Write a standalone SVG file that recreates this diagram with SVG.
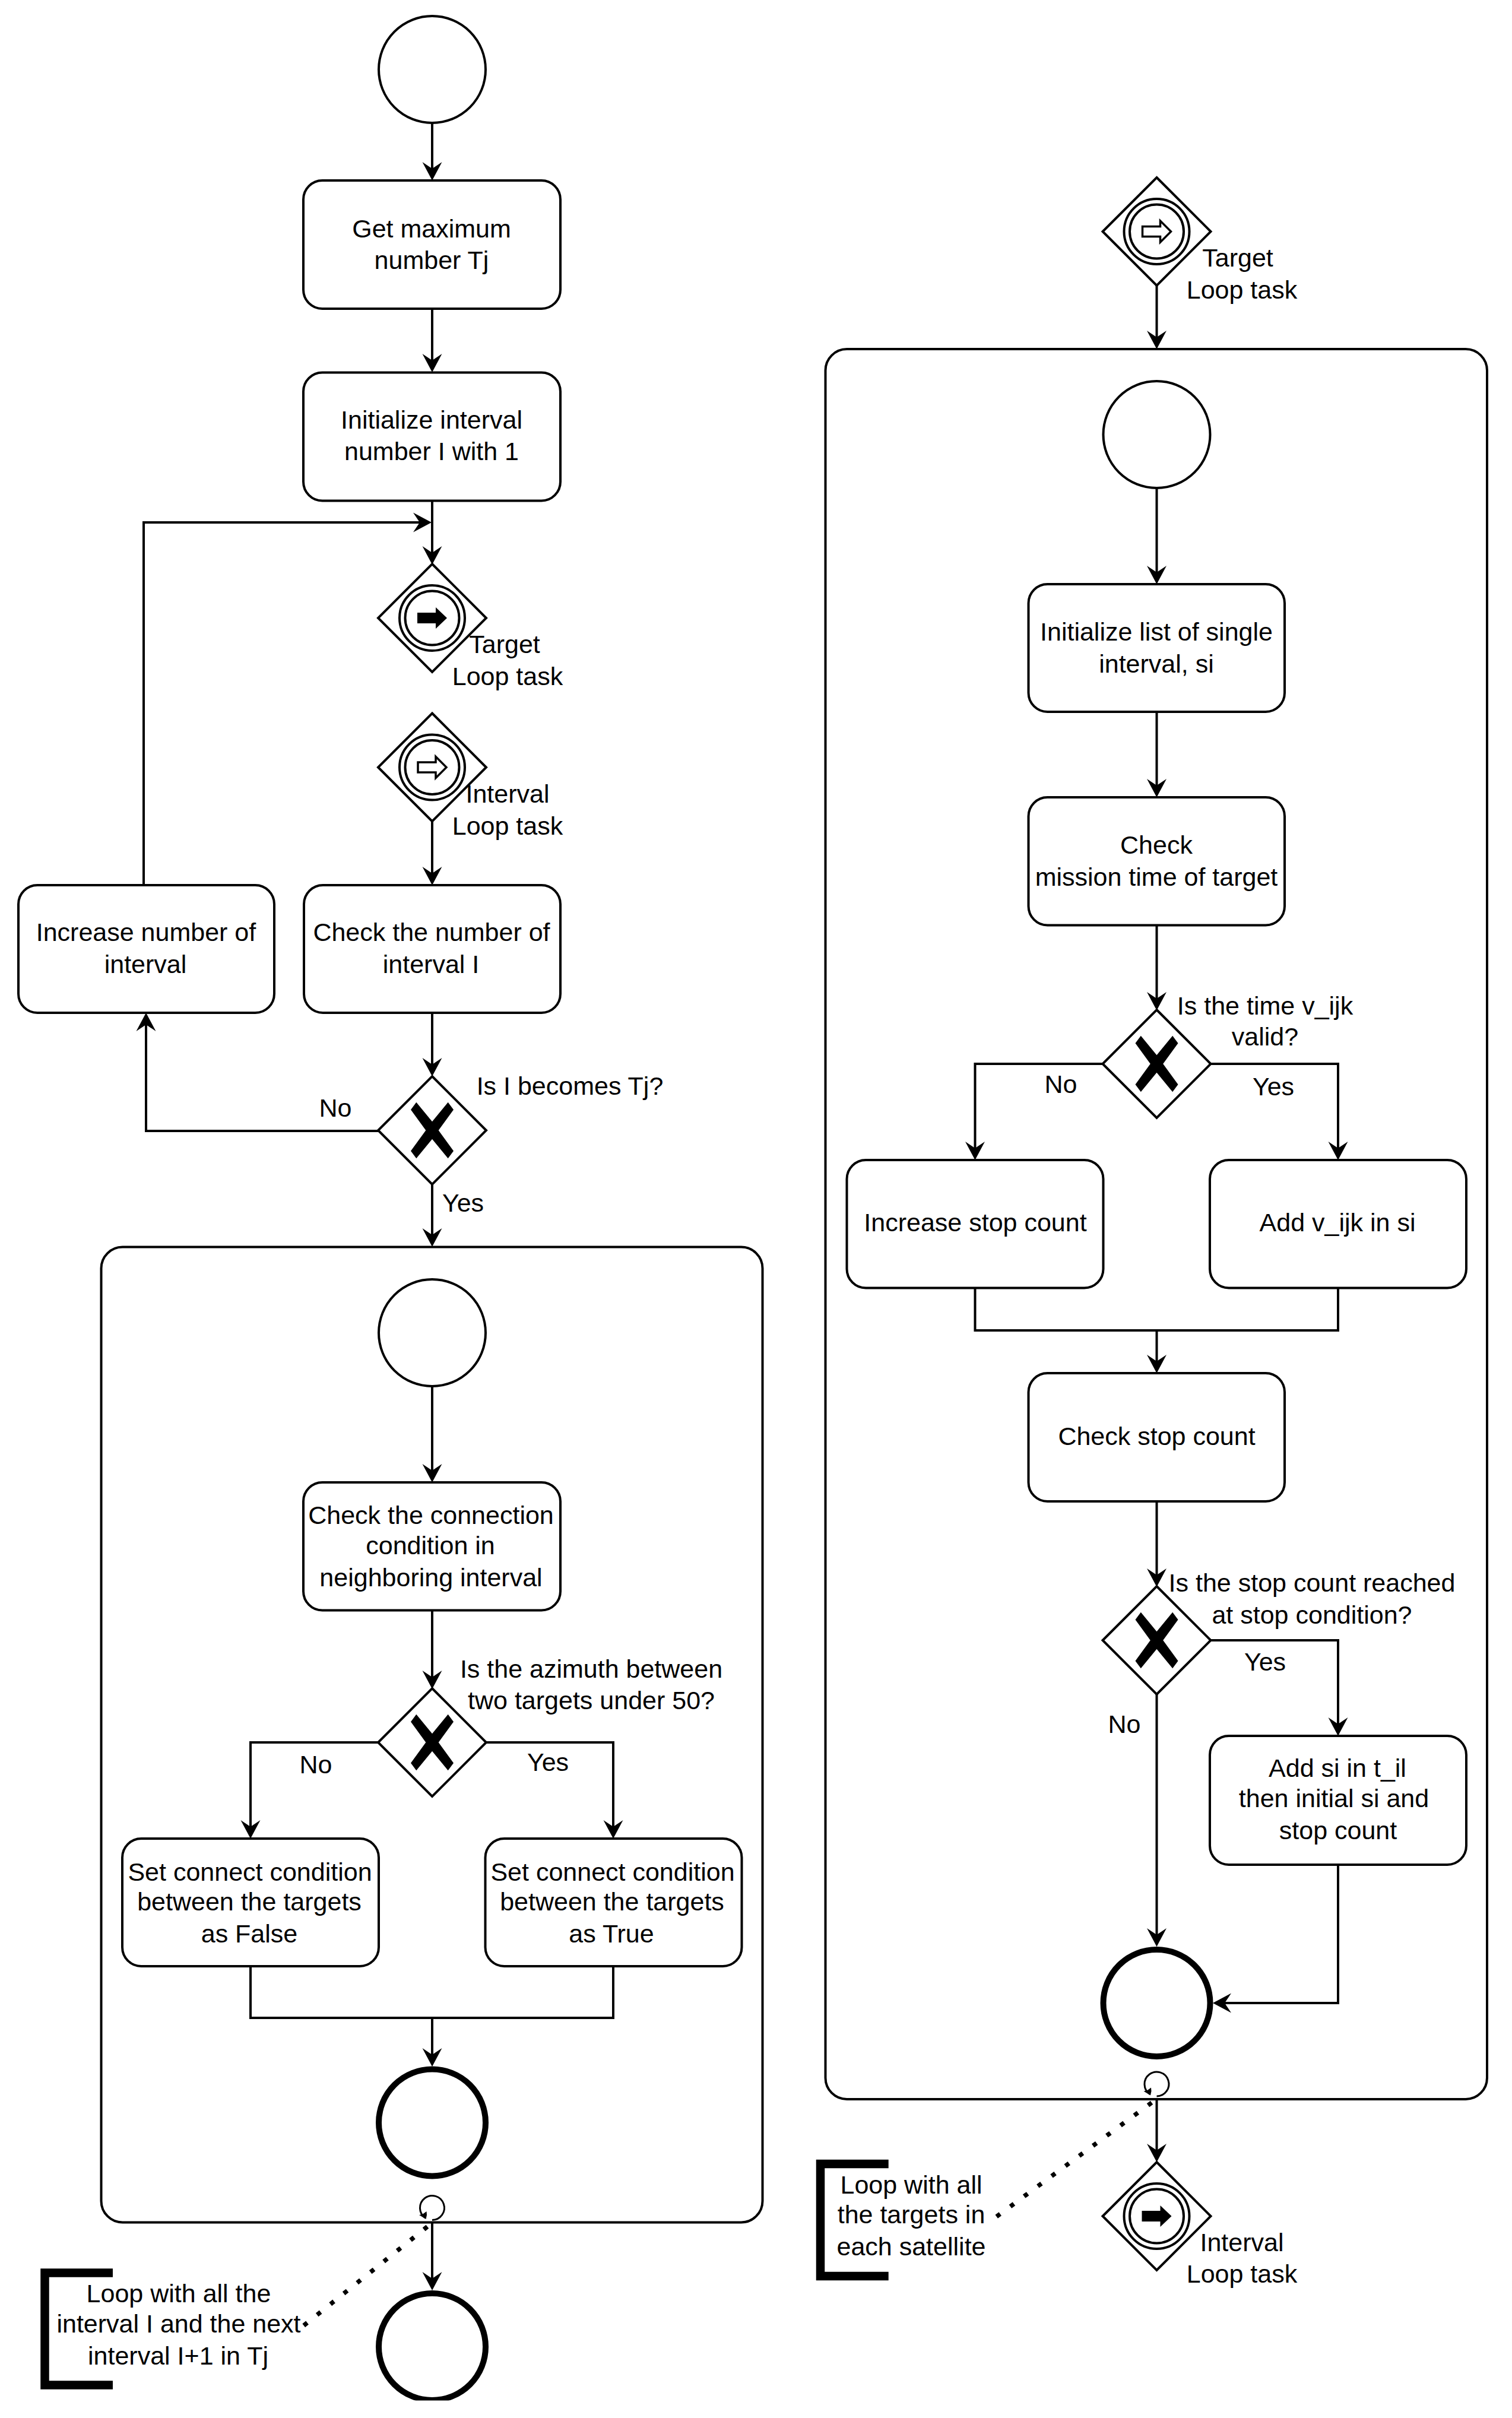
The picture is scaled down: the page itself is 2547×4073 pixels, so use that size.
<svg xmlns="http://www.w3.org/2000/svg" xmlns:xlink="http://www.w3.org/1999/xlink" width="2547" height="4073" viewBox="0 0 2547 4073">
<style>
text{font-family:"Liberation Sans",Arial,sans-serif;font-size:43px;fill:#000;text-anchor:middle}
.s{fill:#fff;stroke:#000;stroke-width:4}
.c{fill:none;stroke:#000;stroke-width:4;marker-end:url(#arr)}
.p{fill:none;stroke:#000;stroke-width:4}
.e{fill:#fff;stroke:#000;stroke-width:10}
.d{fill:none;stroke:#000;stroke-width:7.5;stroke-linecap:square;stroke-dasharray:0.01 28.78}
.b{fill:none;stroke:#000;stroke-width:14.5}
.l{fill:none;stroke:#000;stroke-width:3}
</style>
<defs>
<marker id="arr" markerUnits="userSpaceOnUse" markerWidth="34" markerHeight="36" refX="21" refY="18" orient="auto">
<path d="M0,1.5 L31,18 L0,34.5 L11,18 Z" fill="#000"/>
</marker>
<polygon id="xm" points="-26.7,-47.3 0,-14.7 26.7,-47.3 36,-34.7 10.7,0 36,34.7 26.7,47.3 0,14.7 -26.7,47.3 -36,34.7 -10.7,0 -36,-34.7" fill="#000"/>
<polygon id="dia" class="s" points="0,-91 91,0 0,91 -91,0"/>
<g id="rings"><circle r="55" class="s"/><circle r="45.5" class="s"/></g>
<polygon id="fa" points="-25,-9 6,-9 6,-18 25,0 6,18 6,9 -25,9" fill="#000"/>
<polygon id="oa" points="-24,-8.5 6,-8.5 6,-18 24,0 6,18 6,8.5 -24,8.5" fill="#fff" stroke="#000" stroke-width="3.5"/>
<clipPath id="crop"><rect x="0" y="0" width="2547" height="4043.5"/></clipPath>
</defs>
<rect width="2547" height="4073" fill="#fff"/>

<g id="subprocess-left"><rect class="s" x="170.5" y="2100.5" width="1114" height="1643" rx="36"/></g>
<g id="subprocess-right"><rect class="s" x="1390.5" y="588" width="1114.5" height="2948" rx="36"/></g>

<g id="connectors">
<path class="c" d="M728 207V294"/>
<path class="c" d="M728 520V617"/>
<path class="c" d="M728 843V941"/>
<path class="c" d="M242 1491V880H717"/>
<path class="c" d="M728 1383V1481"/>
<path class="c" d="M728 1706V1803"/>
<path class="c" d="M637 1905H246V1716"/>
<path class="c" d="M728 1995V2090"/>
<path class="c" d="M728 2335V2487"/>
<path class="c" d="M728 2712V2835"/>
<path class="c" d="M638 2935H422V3087"/>
<path class="c" d="M818 2935H1033V3087"/>
<path class="p" d="M422 3312V3399H1033V3312"/>
<path class="c" d="M728 3399V3471"/>
<path class="c" d="M728 3744V3848"/>
<path class="c" d="M1948.5 480V578"/>
<path class="c" d="M1948.5 822V974"/>
<path class="c" d="M1948.5 1199V1333"/>
<path class="c" d="M1948.5 1558.5V1692"/>
<path class="c" d="M1858 1792H1642.5V1944"/>
<path class="c" d="M2038 1792H2254V1944"/>
<path class="p" d="M1642.5 2169.5V2241H2254V2169.5"/>
<path class="c" d="M1948.5 2241V2303"/>
<path class="c" d="M1948.5 2529V2663"/>
<path class="c" d="M2038 2763H2254V2914"/>
<path class="c" d="M1948.5 2853V3269"/>
<path class="c" d="M2254 3141V3374H2053"/>
<path class="c" d="M1948.5 3536V3632"/>
<path class="d" d="M717 3753L514.5 3915"/>
<path class="d" d="M1937 3544L1681 3732"/>
</g>

<g id="start-1"><circle class="s" cx="728" cy="117" r="90"/></g>
<g id="task-get-max"><rect class="s" x="511" y="304" width="433" height="216" rx="32"/><text x="727" y="399.5">Get maximum</text><text x="727" y="453">number Tj</text></g>
<g id="task-init-interval"><rect class="s" x="511" y="627.5" width="433" height="216" rx="32"/><text x="727" y="722">Initialize interval</text><text x="727" y="775">number I with 1</text></g>

<g id="gateway-target-throw"><use href="#dia" xlink:href="#dia" x="728" y="1041"/><use href="#rings" xlink:href="#rings" x="728" y="1041"/><use href="#fa" xlink:href="#fa" x="728" y="1041"/><text x="850" y="1100">Target</text><text x="855" y="1153.5">Loop task</text></g>
<g id="gateway-interval-catch"><use href="#dia" xlink:href="#dia" x="728" y="1292.5"/><use href="#rings" xlink:href="#rings" x="728" y="1292.5"/><use href="#oa" xlink:href="#oa" x="728" y="1292.5"/><text x="855" y="1351.5">Interval</text><text x="855" y="1405.5">Loop task</text></g>
<g id="task-increase-interval"><rect class="s" x="31" y="1491" width="431" height="215" rx="32"/><text x="246" y="1585">Increase number of</text><text x="245" y="1639">interval</text></g>
<g id="task-check-number"><rect class="s" x="512" y="1491" width="432" height="215" rx="32"/><text x="727" y="1585">Check the number of</text><text x="726" y="1639">interval I</text></g>
<g id="gateway-interval-end"><use href="#dia" xlink:href="#dia" x="728" y="1904"/><use href="#xm" xlink:href="#xm" x="728" y="1904"/><text x="960" y="1844">Is I becomes Tj?</text><text x="565" y="1880.5">No</text><text x="780" y="2041">Yes</text></g>

<g id="start-2"><circle class="s" cx="728" cy="2245" r="90"/></g>
<g id="task-check-connection"><rect class="s" x="511" y="2497" width="433" height="215.5" rx="32"/><text x="726" y="2566.5">Check the connection</text><text x="725" y="2617.5">condition in</text><text x="726" y="2671.5">neighboring interval</text></g>
<g id="gateway-azimuth"><use href="#dia" xlink:href="#dia" x="728" y="2935"/><use href="#xm" xlink:href="#xm" x="728" y="2935"/><text x="996" y="2825.5">Is the azimuth between</text><text x="996" y="2878.5">two targets under 50?</text><text x="532" y="2987">No</text><text x="923" y="2983">Yes</text></g>
<g id="task-set-false"><rect class="s" x="206" y="3097" width="432" height="215" rx="32"/><text x="421" y="3167.5">Set connect condition</text><text x="420" y="3218">between the targets</text><text x="420" y="3271.5">as False</text></g>
<g id="task-set-true"><rect class="s" x="817.5" y="3097" width="432" height="215" rx="32"/><text x="1032" y="3167.5">Set connect condition</text><text x="1031" y="3218">between the targets</text><text x="1030" y="3271.5">as True</text></g>
<g id="end-1"><circle class="e" cx="728" cy="3575.5" r="90"/></g>
<g id="loop-marker-left"><path class="l" d="M728 3739.5A20.5 20.5 0 1 0 716.5 3736"/><path d="M717.5 3738L706 3731L711.5 3730L718.5 3725L719 3731Z" fill="#000"/></g>
<g id="end-2"><circle class="e" cx="728" cy="3953" r="90" clip-path="url(#crop)"/></g>
<g id="annotation-left"><polyline class="b" points="190,3828.5 75.5,3828.5 75.5,4017.5 190,4017.5"/><text x="301" y="3877.5">Loop with all the</text><text x="301" y="3928.5">interval I and the next</text><text x="300" y="3982.5">interval I+1 in Tj</text></g>

<g id="gateway-target-catch"><use href="#dia" xlink:href="#dia" x="1948.5" y="390"/><use href="#rings" xlink:href="#rings" x="1948.5" y="390"/><use href="#oa" xlink:href="#oa" x="1948.5" y="390"/><text x="2085" y="449">Target</text><text x="2092" y="503">Loop task</text></g>
<g id="start-3"><circle class="s" cx="1948.5" cy="732" r="90"/></g>
<g id="task-init-list"><rect class="s" x="1732.5" y="984" width="431.5" height="215" rx="32"/><text x="1948" y="1079">Initialize list of single</text><text x="1948" y="1132.5">interval, si</text></g>
<g id="task-check-mission"><rect class="s" x="1732.5" y="1343" width="431.5" height="215.5" rx="32"/><text x="1948" y="1437.5">Check</text><text x="1948" y="1491.5">mission time of target</text></g>
<g id="gateway-time-valid"><use href="#dia" xlink:href="#dia" x="1948.5" y="1792"/><use href="#xm" xlink:href="#xm" x="1948.5" y="1792"/><text x="2131" y="1708.5">Is the time v_ijk</text><text x="2131" y="1760.5">valid?</text><text x="1787" y="1840.5">No</text><text x="2145" y="1844.5">Yes</text></g>
<g id="task-increase-stop"><rect class="s" x="1426.5" y="1954" width="432" height="215.5" rx="32"/><text x="1643" y="2073.5">Increase stop count</text></g>
<g id="task-add-vijk"><rect class="s" x="2038" y="1954" width="432" height="215.5" rx="32"/><text x="2253" y="2073.5">Add v_ijk in si</text></g>
<g id="task-check-stop"><rect class="s" x="1732.5" y="2313" width="431.5" height="216" rx="32"/><text x="1948.5" y="2433.5">Check stop count</text></g>
<g id="gateway-stop"><use href="#dia" xlink:href="#dia" x="1948.5" y="2763"/><use href="#xm" xlink:href="#xm" x="1948.5" y="2763"/><text x="2210" y="2681">Is the stop count reached</text><text x="2210" y="2735">at stop condition?</text><text x="2131" y="2814">Yes</text><text x="1894" y="2918.5">No</text></g>
<g id="task-add-si"><rect class="s" x="2038" y="2924" width="432" height="217" rx="32"/><text x="2253" y="2993">Add si in t_il</text><text x="2247" y="3044">then initial si and</text><text x="2254" y="3098">stop count</text></g>
<g id="end-3"><circle class="e" cx="1948.5" cy="3374" r="90"/></g>
<g id="loop-marker-right"><path class="l" d="M1948.5 3531A20.5 20.5 0 1 0 1937 3527.5"/><path d="M1938 3529.5L1926.5 3522.5L1932 3521.5L1939 3516.5L1939.5 3522.5Z" fill="#000"/></g>
<g id="gateway-interval-throw"><use href="#dia" xlink:href="#dia" x="1948.5" y="3733"/><use href="#rings" xlink:href="#rings" x="1948.5" y="3733"/><use href="#fa" xlink:href="#fa" x="1948.5" y="3733"/><text x="2092" y="3792">Interval</text><text x="2092" y="3845">Loop task</text></g>
<g id="annotation-right"><polyline class="b" points="1496.7,3645 1382,3645 1382,3834 1496.7,3834"/><text x="1535" y="3695">Loop with all</text><text x="1535" y="3745">the targets in</text><text x="1535" y="3799">each satellite</text></g>
</svg>
